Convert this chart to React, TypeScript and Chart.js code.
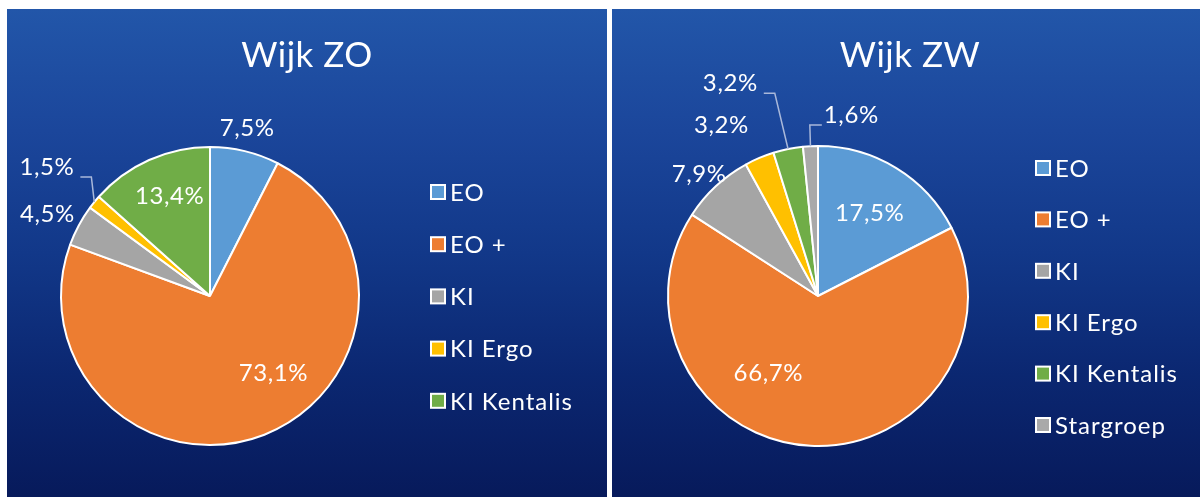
import React, { useEffect, useRef } from 'react';
import { Chart, registerables } from 'chart.js';

Chart.register(...registerables);

// ---------- data ----------
const titleZO = 'Wijk ZO';
const categoriesZO = ['EO', 'EO +', 'KI', 'KI Ergo', 'KI Kentalis'];
const valuesZO = [7.5, 73.1, 4.5, 1.5, 13.4];

const titleZW = 'Wijk ZW';
const categoriesZW = ['EO', 'EO +', 'KI', 'KI Ergo', 'KI Kentalis', 'Stargroep'];
const valuesZW = [17.5, 66.7, 7.9, 3.2, 3.2, 1.6];

// ---------- styles ----------
const FONT = 'Lato, "Open Sans", sans-serif';
const colorsZO = ['#5B9BD5', '#ED7D31', '#A5A5A5', '#FFC000', '#70AD47'];
const colorsZW = ['#5B9BD5', '#ED7D31', '#A5A5A5', '#FFC000', '#70AD47', '#A9A9A9'];

type Place = { mode: 'in' | 'out'; d: number; shift: number; leader?: 'left' | 'right' };

const placesZO: Place[] = [
  { mode: 'out', d: 23, shift: -1 },
  { mode: 'in', d: 0.67, shift: -18 },
  { mode: 'out', d: 33, shift: -1.6 },
  { mode: 'out', d: 59, shift: -0.7, leader: 'right' },
  { mode: 'in', d: 0.72, shift: 2 },
];
const placesZW: Place[] = [
  { mode: 'in', d: 0.65, shift: 0.5 },
  { mode: 'in', d: 0.61, shift: 30 },
  { mode: 'out', d: 20, shift: -1.4 },
  { mode: 'out', d: 46, shift: -6.5 },
  { mode: 'out', d: 80, shift: -10.9, leader: 'right' },
  { mode: 'out', d: 34, shift: 13.3, leader: 'left' },
];

const fmt = (v: number) => v.toFixed(1).replace('.', ',') + '%';

type PanelProps = {
  left: number;
  top: number;
  width: number;
  height: number;
  title: string;
  categories: string[];
  values: number[];
  colors: string[];
  places: Place[];
  padding: { left: number; right: number; top: number; bottom: number };
  titleX: number;
  titleY: number;
  legendX: number;
  legendY: number;
  legendStep: number;
};

function Panel(p: PanelProps) {
  const ref = useRef<HTMLCanvasElement | null>(null);
  useEffect(() => {
    if (!ref.current) return;
    const labelPlugin = {
      id: 'pieDecor',
      afterDatasetsDraw(chart: any) {
        const ctx = chart.ctx as any;
        const meta = chart.getDatasetMeta(0);
        const vals = chart.data.datasets[0].data as number[];
        ctx.save();
        ctx.font = `24px ${FONT}`;
        ctx.letterSpacing = '0.6px';
        ctx.textAlign = 'center';
        ctx.textBaseline = 'middle';
        meta.data.forEach((arc: any, i: number) => {
          const { x, y, startAngle, endAngle, outerRadius } = arc.getProps(
            ['x', 'y', 'startAngle', 'endAngle', 'outerRadius'],
            true
          );
          const mid = (startAngle + endAngle) / 2;
          const pl = p.places[i];
          const a = mid + (pl.shift * Math.PI) / 180;
          const dist = pl.mode === 'in' ? outerRadius * pl.d : outerRadius + pl.d;
          const lx = x + Math.cos(a) * dist;
          const ly = y + Math.sin(a) * dist;
          const text = fmt(vals[i]);
          if (pl.leader) {
            const w = ctx.measureText(text).width;
            const ax = x + Math.cos(mid) * outerRadius;
            const ay = y + Math.sin(mid) * outerRadius;
            const sy = ly + 10;
            const sx = pl.leader === 'right' ? lx + w / 2 + 6 : lx - w / 2 - 2;
            const hx = pl.leader === 'right' ? sx + 11 : sx - 12;
            ctx.strokeStyle = '#A9B8DA';
            ctx.lineWidth = 1.5;
            ctx.beginPath();
            ctx.moveTo(sx, sy);
            ctx.lineTo(hx, sy);
            ctx.lineTo(ax, ay);
            ctx.stroke();
          }
          ctx.fillStyle = '#FFFFFF';
          ctx.fillText(text, lx, ly);
        });
        ctx.restore();
      },
      afterDraw(chart: any) {
        const ctx = chart.ctx as any;
        ctx.save();
        ctx.fillStyle = '#FFFFFF';
        ctx.textAlign = 'center';
        ctx.textBaseline = 'middle';
        ctx.font = `35px ${FONT}`;
        ctx.letterSpacing = '0.5px';
        ctx.fillText(p.title, p.titleX, p.titleY);
        ctx.font = `24px ${FONT}`;
        ctx.letterSpacing = '1px';
        ctx.textAlign = 'left';
        const labels = chart.data.labels as string[];
        const cols = chart.data.datasets[0].backgroundColor as string[];
        labels.forEach((lab, i) => {
          const cy = p.legendY + i * p.legendStep;
          ctx.fillStyle = cols[i];
          ctx.fillRect(p.legendX, cy - 7, 14, 14);
          ctx.strokeStyle = '#FFFFFF';
          ctx.lineWidth = 2;
          ctx.strokeRect(p.legendX, cy - 7, 14, 14);
          ctx.fillStyle = '#FFFFFF';
          ctx.fillText(lab, p.legendX + 19, cy + 1);
        });
        ctx.restore();
      },
    };
    const chart = new Chart(ref.current, {
      type: 'pie',
      data: {
        labels: p.categories,
        datasets: [
          {
            data: p.values,
            backgroundColor: p.colors,
            borderColor: '#FFFFFF',
            borderWidth: 2,
          },
        ],
      },
      options: {
        responsive: false,
        animation: false,
        layout: { padding: p.padding },
        plugins: {
          legend: { display: false },
          title: { display: false },
          tooltip: { enabled: false },
        },
      },
      plugins: [labelPlugin],
    });
    return () => chart.destroy();
  }, []);
  return (
    <div
      style={{
        position: 'absolute',
        left: p.left,
        top: p.top,
        width: p.width,
        height: p.height,
        background:
          'linear-gradient(180deg, #2256a9 0%, #1b469b 25%, #123889 50%, #0b2771 75%, #071a5b 100%)',
      }}
    >
      <canvas ref={ref} width={p.width} height={p.height} style={{ display: 'block' }} />
    </div>
  );
}

export default function App() {
  return (
    <div
      style={{
        position: 'fixed',
        left: 0,
        top: 0,
        width: 1200,
        height: 497,
        background: '#FFFFFF',
        overflow: 'hidden',
      }}
    >
      <Panel
        left={7}
        top={9}
        width={600}
        height={488}
        title={titleZO}
        categories={categoriesZO}
        values={valuesZO}
        colors={colorsZO}
        places={placesZO}
        padding={{ left: 53, right: 247, top: 137, bottom: 51 }}
        titleX={300}
        titleY={47}
        legendX={424}
        legendY={183}
        legendStep={52.2}
      />
      <Panel
        left={612}
        top={9}
        width={588}
        height={488}
        title={titleZW}
        categories={categoriesZW}
        values={valuesZW}
        colors={colorsZW}
        places={placesZW}
        padding={{ left: 55, right: 231, top: 136, bottom: 50 }}
        titleX={298}
        titleY={47}
        legendX={424}
        legendY={159}
        legendStep={51.4}
      />
    </div>
  );
}
